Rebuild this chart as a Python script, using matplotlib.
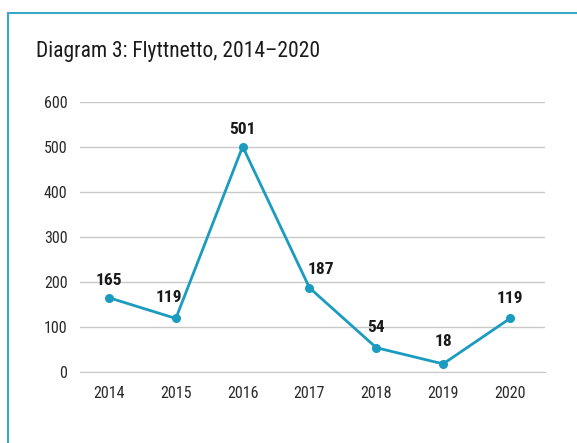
import matplotlib
matplotlib.use("Agg")
import matplotlib.pyplot as plt
from matplotlib.patches import Rectangle

years = ["2014", "2015", "2016", "2017", "2018", "2019", "2020"]
netto = [165, 119, 501, 187, 54, 18, 119]
# label nudges in points (dx, dy)
label_offsets = [(0, 7), (-5, 10), (0, 7), (8, 8), (0, 9), (0, 11), (0, 9)]

plt.rcParams['font.family'] = ['Roboto Condensed', 'Roboto', 'DejaVu Sans']

line_col = "#1a9bbf"
fig = plt.figure(figsize=(5.77, 4.43), dpi=100)

# frame around the chart
fig.patches.append(Rectangle((8 / 577, -0.1), 1.2, 1 - 13 / 443 + 0.1,
                             transform=fig.transFigure, fill=False,
                             edgecolor="#3aa7c8", linewidth=1.5))

ax = fig.add_axes([80 / 577, 1 - 372 / 443, (545 - 80) / 577, (372 - 102) / 443])
x = range(len(years))
ax.plot(x, netto, color=line_col, linewidth=2, marker="o", markersize=5.5)
for i, v in enumerate(netto):
    dx, dy = label_offsets[i]
    ax.annotate(str(v), (i, v), xytext=(dx, dy), textcoords="offset points",
                ha="center", va="bottom", fontsize=12.5, fontweight="bold",
                color="#1a1a1a")

ax.set_xlim(-0.434, 6.524)
ax.set_ylim(0, 600)
ax.set_yticks(range(0, 601, 100))
ax.set_xticks(list(x))
ax.set_xticklabels(years)
ax.yaxis.grid(True, color="#c8c8c8", linewidth=1)
ax.set_axisbelow(True)
for s in ["top", "right", "left"]:
    ax.spines[s].set_visible(False)
ax.spines["bottom"].set_color("#c8c8c8")
ax.tick_params(axis="both", length=0, labelsize=11.5, colors="#2a2a2a")
ax.tick_params(axis="y", pad=9)
ax.tick_params(axis="x", pad=10)

fig.text(36 / 577, 1 - 51 / 443, "Diagram 3: Flyttnetto, 2014\u20132020",
         fontsize=15.5, va="center", ha="left", color="#1a1a1a")

fig.savefig("out.png", dpi=100)
